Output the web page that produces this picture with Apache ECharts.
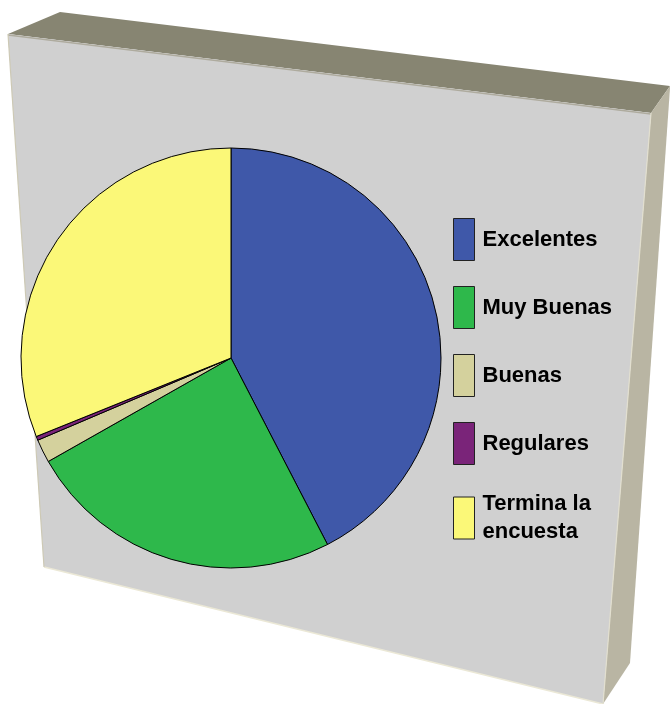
<!DOCTYPE html>
<html>
<head>
<meta charset="utf-8">
<script src="https://cdn.jsdelivr.net/npm/echarts@6/dist/echarts.min.js"></script>
<style>html,body{margin:0;padding:0;background:#fff}#c{width:670px;height:704px}</style>
</head>
<body>
<div id="c"></div>
<script>
const categories = ['Excelentes', 'Muy Buenas', 'Buenas', 'Regulares', 'Termina la\nencuesta'];
const values = [42.4, 24.4, 1.8, 0.3, 31.1];
const colors = ['#3f58a9', '#2eb84b', '#d4d19d', '#7a2479', '#fbf878'];

const chart = echarts.init(document.getElementById('c'), null, {renderer: 'canvas'});
chart.setOption({
  backgroundColor: '#ffffff',
  animation: false,
  graphic: [
    { type: 'polygon', z: -10, shape: { points: [[8,34],[60,12],[670,86],[651,113]] }, style: { fill: '#878572' } },
    { type: 'polygon', z: -10, shape: { points: [[651,113],[670,86],[670,88],[630,663],[603,704]] }, style: { fill: '#b9b5a3' } },
    { type: 'polygon', z: -9, shape: { points: [[8,34],[651,113],[603,704],[44,567]] }, style: { fill: '#d0d0d0' } },
    { type: 'polyline', z: -8, shape: { points: [[8,35],[651,114]] }, style: { stroke: '#aeab9e', lineWidth: 1.5, fill: null } },
    { type: 'polyline', z: -8, shape: { points: [[44,567],[603,704]] }, style: { stroke: '#ebe8d6', lineWidth: 1.5, fill: null } },
    { type: 'polyline', z: -8, shape: { points: [[8,34],[44,567]] }, style: { stroke: '#cdc9b5', lineWidth: 1.2, fill: null } },
    { type: 'polyline', z: -8, shape: { points: [[651,113],[603,704]] }, style: { stroke: '#e2dfcf', lineWidth: 1.2, fill: null } }
  ],
  legend: {
    orient: 'vertical',
    left: 453,
    top: 218,
    padding: 0,
    itemWidth: 21,
    itemHeight: 42,
    itemGap: 25,
    selectedMode: false,
    icon: 'rect',
    itemStyle: { borderColor: '#222', borderWidth: 1 },
    textStyle: {
      fontFamily: 'Liberation Sans, Arial, sans-serif',
      fontWeight: 'bold',
      fontSize: 22,
      lineHeight: 28,
      color: '#000',
      padding: [0, 0, 0, 3]
    },
    data: categories
  },
  series: [{
    type: 'pie',
    center: [231, 358],
    radius: 210,
    startAngle: 90,
    clockwise: true,
    label: { show: false },
    labelLine: { show: false },
    emphasis: { disabled: true },
    itemStyle: { borderColor: '#000', borderWidth: 1 },
    data: categories.map((c, i) => ({ name: c, value: values[i], itemStyle: { color: colors[i] } }))
  }]
});
</script>
</body>
</html>
